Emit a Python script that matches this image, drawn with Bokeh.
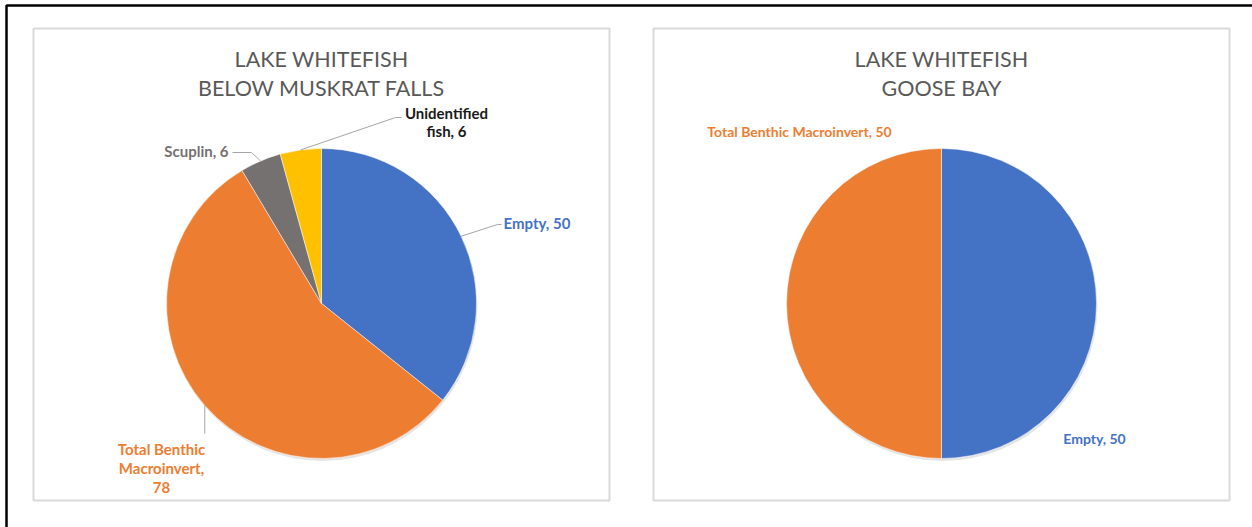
import numpy as np
from bokeh.plotting import figure
from bokeh.models import Range1d
from bokeh.core.properties import value
from bokeh.embed import file_html
from bokeh.resources import INLINE

# ---- data ----
titles = [["LAKE WHITEFISH", "BELOW MUSKRAT FALLS"], ["LAKE WHITEFISH", "GOOSE BAY"]]
left_cats = ["Empty", "Total Benthic Macroinvert", "Scuplin", "Unidentified fish"]
left_vals = [50, 78, 6, 6]
right_cats = ["Empty", "Total Benthic Macroinvert"]
right_vals = [50, 50]
colors = {"Empty": "#4472C4", "Total Benthic Macroinvert": "#ED7D31",
          "Scuplin": "#767171", "Unidentified fish": "#FFC000"}

W, H = 1252, 527
def Y(py):
    return H - py

p = figure(width=W, height=H, output_backend="svg", toolbar_location=None,
           x_range=Range1d(0, W), y_range=Range1d(0, H),
           x_axis_location=None, y_axis_location=None, min_border=0)
p.grid.visible = False
p.outline_line_color = None
p.background_fill_color = "white"

# outer black frame (top and left)
p.line([6, 6, W], [0, Y(5), Y(5)], line_color="black", line_width=2.5)

# panels
panels = [(33, 609), (653, 1229)]
for (x0, x1) in panels:
    p.quad(left=x0, right=x1, top=Y(28), bottom=Y(500), fill_color="white",
           line_color="#D9D9D9", line_width=2)

FONT = value("Lato")
R = 155
CY = Y(303)
centers = [321, 941]

# titles
for cx, tl in zip(centers, titles):
    p.text(x=[cx, cx], y=[Y(58), Y(87)], text=tl, text_align="center",
           text_baseline="middle", text_font=FONT, text_font_size=value("21.5px"),
           text_color="#595959")

def draw_pie(cx, cats, vals):
    vals = np.array(vals, dtype=float)
    frac = vals / vals.sum()
    cum = np.concatenate([[0], np.cumsum(frac)])
    start = np.pi / 2 - cum[:-1] * 2 * np.pi
    end = np.pi / 2 - cum[1:] * 2 * np.pi
    # soft shadow
    p.circle(x=[cx + 1], y=[CY - 2.5], radius=R, fill_color="black",
             fill_alpha=0.10, line_color=None)
    p.wedge(x=[cx] * len(vals), y=[CY] * len(vals), radius=R,
            start_angle=list(start), end_angle=list(end), direction="clock",
            fill_color=[colors[c] for c in cats], line_color="white", line_width=0.5)
    mid = (start + end) / 2
    return [(cx + R * np.cos(m), CY + R * np.sin(m)) for m in mid]

# left pie
anch = draw_pie(centers[0], left_cats, left_vals)
lead = "#A6A6A6"
ax, ay = anch[0]
p.line([ax, 497, 501], [ay, Y(224), Y(224)], line_color=lead, line_width=1)
ax, ay = anch[1]
p.line([ax, ax], [ay, Y(433)], line_color=lead, line_width=1)
ax, ay = anch[2]
p.line([ax, 251, 232], [ay, Y(152), Y(152)], line_color=lead, line_width=1)
ax, ay = anch[3]
p.line([ax, 395, 401], [ay, Y(117), Y(117)], line_color=lead, line_width=1)

LS = value("15px")
p.text(x=[503], y=[Y(222)], text=[f"{left_cats[0]}, {left_vals[0]}"], text_align="left",
       text_baseline="middle", text_font=FONT, text_font_size=LS, text_font_style="bold",
       text_color=colors["Empty"])
p.text(x=[161, 161, 161], y=[Y(448), Y(467), Y(487)],
       text=["Total Benthic", "Macroinvert,", f"{left_vals[1]}"], text_align="center",
       text_baseline="middle", text_font=FONT, text_font_size=LS, text_font_style="bold",
       text_color=colors["Total Benthic Macroinvert"])
p.text(x=[228], y=[Y(150)], text=[f"{left_cats[2]}, {left_vals[2]}"], text_align="right",
       text_baseline="middle", text_font=FONT, text_font_size=LS, text_font_style="bold",
       text_color=colors["Scuplin"])
p.text(x=[446, 446], y=[Y(112), Y(130)], text=["Unidentified", f"fish, {left_vals[3]}"],
       text_align="center", text_baseline="middle", text_font=FONT, text_font_size=LS,
       text_font_style="bold", text_color="#1a1a1a")

# right pie
RS = value("14px")
draw_pie(centers[1], right_cats, right_vals)
p.text(x=[799], y=[Y(131)], text=[f"{right_cats[1]}, {right_vals[1]}"], text_align="center",
       text_baseline="middle", text_font=FONT, text_font_size=RS, text_font_style="bold",
       text_color=colors["Total Benthic Macroinvert"])
p.text(x=[1094], y=[Y(438)], text=[f"{right_cats[0]}, {right_vals[0]}"], text_align="center",
       text_baseline="middle", text_font=FONT, text_font_size=RS, text_font_style="bold",
       text_color=colors["Empty"])

open("out.html", "w").write(file_html(p, INLINE))
